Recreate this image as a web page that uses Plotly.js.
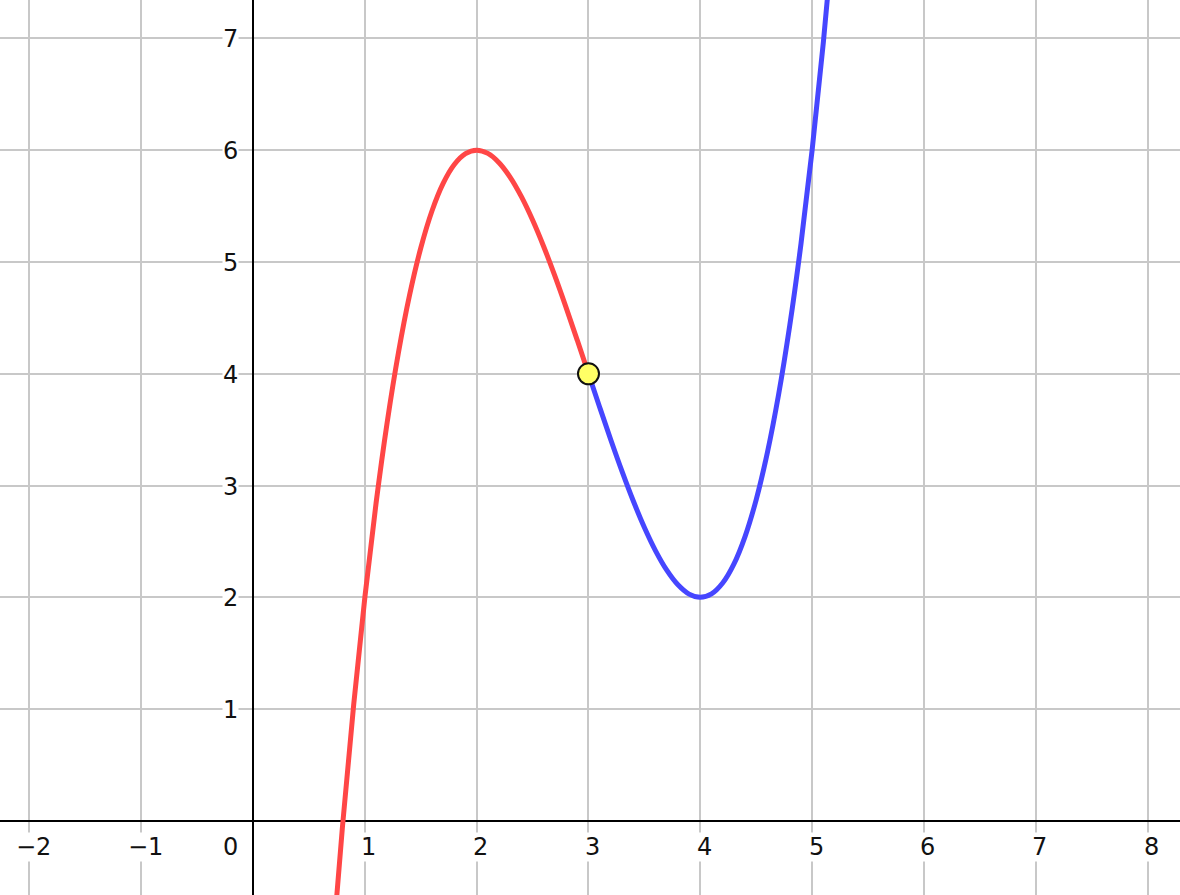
<!DOCTYPE html>
<html>
<head>
<meta charset="utf-8">
<script src="https://cdn.plot.ly/plotly-3.0.1.min.js"></script>
<style>html,body{margin:0;padding:0;background:#fff;}#chart{width:1180px;height:895px;}</style>
</head>
<body>
<div id="chart"></div>
<script>
// Curve values (left, red part: up to the marked point)
const redX = [0.7, 0.8, 0.9, 1.0, 1.1, 1.2, 1.3, 1.4, 1.5, 1.6, 1.7, 1.8, 1.9, 2.0, 2.1, 2.2, 2.3, 2.4, 2.5, 2.6, 2.7, 2.8, 2.9, 3.0];
const redY = [-1.267, -0.048, 1.039, 2.0, 2.841, 3.568, 4.187, 4.704, 5.125, 5.456, 5.703, 5.872, 5.969, 6.0, 5.971, 5.888, 5.757, 5.584, 5.375, 5.136, 4.873, 4.592, 4.299, 4.0];
// Right, blue part: from the marked point upward
const blueX = [3.0, 3.1, 3.2, 3.3, 3.4, 3.5, 3.6, 3.7, 3.8, 3.9, 4.0, 4.1, 4.2, 4.3, 4.4, 4.5, 4.6, 4.7, 4.8, 4.9, 5.0, 5.1, 5.2];
const blueY = [4.0, 3.701, 3.408, 3.127, 2.864, 2.625, 2.416, 2.243, 2.112, 2.029, 2.0, 2.031, 2.128, 2.297, 2.544, 2.875, 3.296, 3.813, 4.432, 5.159, 6.0, 6.961, 8.048];
// Marked point
const pointX = [3];
const pointY = [4];
// Tick labels
const xTickVals = [-2, -1, 1, 2, 3, 4, 5, 6, 7, 8];
const xTickText = ['\u22122', '\u22121', '1', '2', '3', '4', '5', '6', '7', '8'];
const yTickVals = [1, 2, 3, 4, 5, 6, 7];
const yTickText = ['1', '2', '3', '4', '5', '6', '7'];
const originLabel = '0';

const labelFont = {family: 'DejaVu Sans, Verdana, sans-serif', size: 24, color: '#111'};

const traces = [
  {x: redX, y: redY, mode: 'lines', line: {color: '#ff4646', width: 5, shape: 'spline'}, hoverinfo: 'skip'},
  {x: blueX, y: blueY, mode: 'lines', line: {color: '#4646ff', width: 5, shape: 'spline'}, hoverinfo: 'skip'},
  {x: pointX, y: pointY, mode: 'markers', marker: {size: 21, color: '#ffff66', line: {color: '#111', width: 2}}, hoverinfo: 'skip'}
];

const annotations = [];
xTickVals.forEach((v, i) => annotations.push({
  x: v, y: 0, xref: 'x', yref: 'y', text: xTickText[i], showarrow: false,
  xanchor: 'center', yanchor: 'middle', xshift: 4, yshift: -26,
  bgcolor: '#ffffff', borderpad: 0, font: labelFont
}));
yTickVals.forEach((v, i) => annotations.push({
  x: 0, y: v, xref: 'x', yref: 'y', text: yTickText[i], showarrow: false,
  xanchor: 'center', yanchor: 'middle', xshift: -23, yshift: -1,
  bgcolor: '#ffffff', borderpad: 0, font: labelFont
}));
annotations.push({
  x: 0, y: 0, xref: 'x', yref: 'y', text: originLabel, showarrow: false,
  xanchor: 'center', yanchor: 'middle', xshift: -23, yshift: -26,
  bgcolor: '#ffffff', borderpad: 0, font: labelFont
});

const layout = {
  width: 1180, height: 895,
  margin: {l: 0, r: 0, t: 0, b: 0, pad: 0},
  paper_bgcolor: '#ffffff', plot_bgcolor: '#ffffff',
  showlegend: false,
  xaxis: {range: [-2.263, 8.29], dtick: 1, tick0: 0, showticklabels: false, ticks: '',
    showgrid: true, gridcolor: '#c8c8c8', gridwidth: 2,
    zeroline: true, zerolinecolor: '#000', zerolinewidth: 2, fixedrange: true},
  yaxis: {range: [-0.662, 7.343], dtick: 1, tick0: 0, showticklabels: false, ticks: '',
    showgrid: true, gridcolor: '#c8c8c8', gridwidth: 2,
    zeroline: true, zerolinecolor: '#000', zerolinewidth: 2, fixedrange: true},
  annotations: annotations
};

Plotly.newPlot('chart', traces, layout, {displayModeBar: false, staticPlot: true});
</script>
</body>
</html>
